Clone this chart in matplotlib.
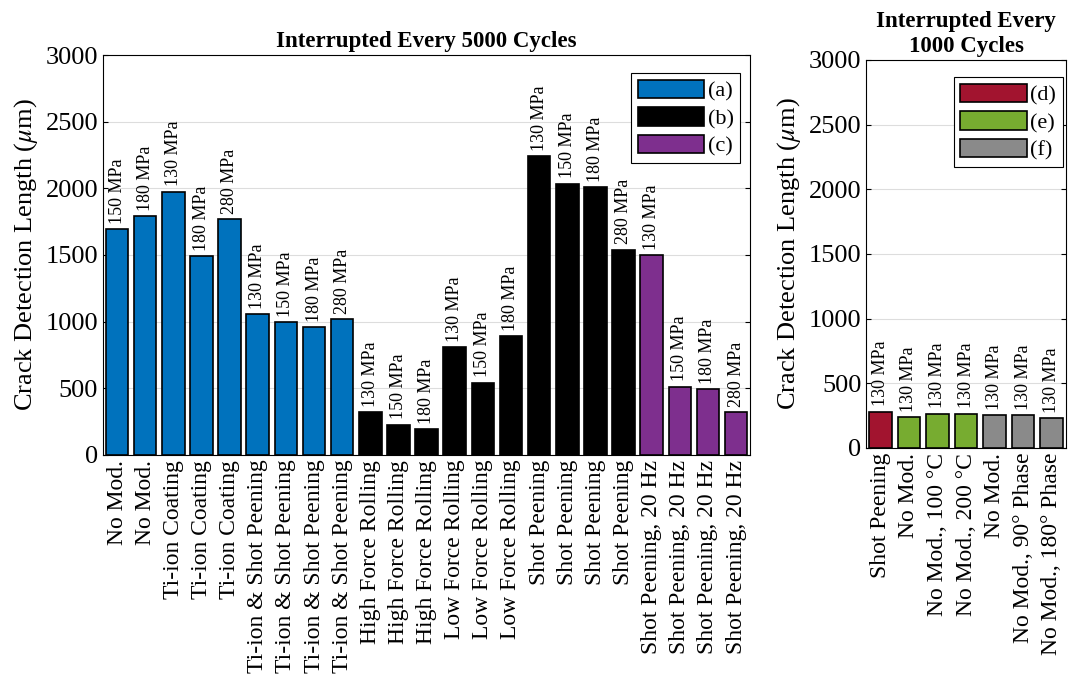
import matplotlib
matplotlib.use("Agg")
import matplotlib.pyplot as plt
from matplotlib.patches import Patch
import numpy as np

plt.rcParams['font.family'] = ['Liberation Serif', 'DejaVu Serif']
plt.rcParams['mathtext.fontset'] = 'stix'

# left panel: interrupted every 5000 cycles
left_names = ['No Mod.', 'No Mod.', 'Ti-ion Coating', 'Ti-ion Coating', 'Ti-ion Coating',
              'Ti-ion & Shot Peening', 'Ti-ion & Shot Peening', 'Ti-ion & Shot Peening', 'Ti-ion & Shot Peening',
              'High Force Rolling', 'High Force Rolling', 'High Force Rolling',
              'Low Force Rolling', 'Low Force Rolling', 'Low Force Rolling',
              'Shot Peening', 'Shot Peening', 'Shot Peening', 'Shot Peening',
              'Shot Peening, 20 Hz', 'Shot Peening, 20 Hz', 'Shot Peening, 20 Hz', 'Shot Peening, 20 Hz']
left_stress = ['150 MPa', '180 MPa', '130 MPa', '180 MPa', '280 MPa',
               '130 MPa', '150 MPa', '180 MPa', '280 MPa',
               '130 MPa', '150 MPa', '180 MPa',
               '130 MPa', '150 MPa', '180 MPa',
               '130 MPa', '150 MPa', '180 MPa', '280 MPa',
               '130 MPa', '150 MPa', '180 MPa', '280 MPa']
left_values = [1695, 1790, 1975, 1490, 1770,
               1055, 995, 960, 1020,
               320, 225, 190,
               810, 540, 890,
               2240, 2035, 2010, 1540,
               1500, 510, 490, 320]
left_group = ['a'] * 9 + ['b'] * 10 + ['c'] * 4

# right panel: interrupted every 1000 cycles
right_names = ['Shot Peening', 'No Mod.', 'No Mod., 100 \u00b0C', 'No Mod., 200 \u00b0C',
               'No Mod.', 'No Mod., 90\u00b0 Phase', 'No Mod., 180\u00b0 Phase']
right_stress = ['130 MPa'] * 7
right_values = [280, 240, 265, 265, 255, 255, 230]
right_group = ['d', 'e', 'e', 'e', 'f', 'f', 'f']

colors = {'a': '#0072BD', 'b': '#000000', 'c': '#7E2F8E',
          'd': '#A2142F', 'e': '#77AC30', 'f': '#8A8A8A'}

fig = plt.figure(figsize=(10.68, 6.88), dpi=100)
ax1 = fig.add_axes([0.0964, 0.339, 0.606, 0.581])
ax2 = fig.add_axes([0.811, 0.349, 0.187, 0.564])


def draw(ax, names, stress, values, groups, legend_keys, title):
    x = np.arange(1, len(values) + 1)
    ax.bar(x, values, width=0.8, color=[colors[g] for g in groups],
           edgecolor='black', linewidth=1.2, zorder=3)
    for xi, v, s in zip(x, values, stress):
        ax.text(xi, v + 40, s, rotation=90, ha='center', va='bottom', fontsize=13)
    ax.set_xlim(0.5, len(values) + 0.5)
    ax.set_ylim(0, 3000)
    ax.set_yticks(range(0, 3001, 500))
    ax.set_xticks(x)
    ax.set_xticklabels(names, rotation=90, fontsize=17)
    ax.tick_params(axis='y', labelsize=19, direction='in')
    ax.tick_params(axis='x', direction='in', length=4)
    ax.tick_params(top=False, right=True)
    ax.grid(axis='y', color='#dddddd', linewidth=0.8, zorder=0)
    ax.set_ylabel(r'Crack Detection Length ($\mu$m)', fontsize=19)
    ax.set_title(title, fontsize=16.5, fontweight='bold')
    handles = [Patch(facecolor=colors[k], edgecolor='black', linewidth=1.2) for k in legend_keys]
    leg = ax.legend(handles, ['(%s)' % k for k in legend_keys], loc='upper right',
                    bbox_to_anchor=(0.985, 0.955),
                    fontsize=16, handlelength=3.0, handleheight=0.9,
                    fancybox=False, edgecolor='black', framealpha=1,
                    handletextpad=0.15, borderaxespad=0.0, labelspacing=0.25,
                    borderpad=0.3)
    leg.get_frame().set_linewidth(0.8)


draw(ax1, left_names, left_stress, left_values, left_group, ['a', 'b', 'c'],
     'Interrupted Every 5000 Cycles')
draw(ax2, right_names, right_stress, right_values, right_group, ['d', 'e', 'f'],
     'Interrupted Every\n1000 Cycles')

fig.savefig('out.png', dpi=100)
